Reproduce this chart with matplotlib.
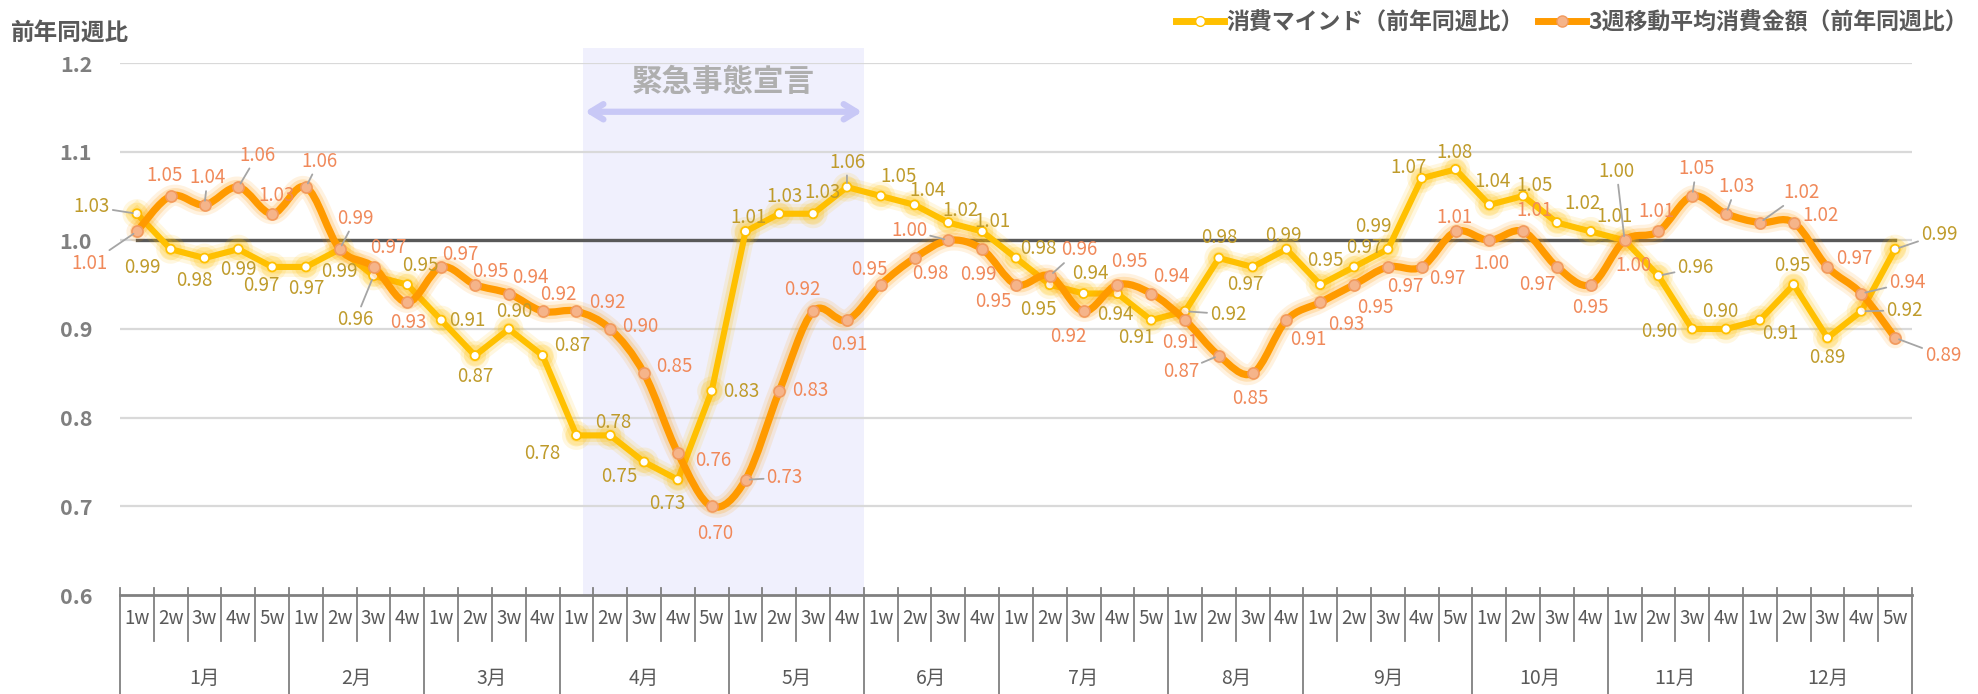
import numpy as np
import matplotlib.pyplot as plt
import matplotlib.patheffects as pe
import matplotlib.transforms as mtransforms
from matplotlib.path import Path
from matplotlib.patches import PathPatch, Rectangle
from matplotlib.lines import Line2D

plt.rcParams['font.family'] = ['Noto Sans CJK JP', 'DejaVu Sans']

# %% Data
months = ['1月', '2月', '3月', '4月', '5月', '6月',
          '7月', '8月', '9月', '10月', '11月', '12月']
weeks_per_month = [5, 4, 4, 5, 4, 4, 5, 4, 5, 4, 4, 5]

# 消費マインド（前年同週比）
mind = [1.03, 0.99, 0.98, 0.99, 0.97,
        0.97, 0.99, 0.96, 0.95,
        0.91, 0.87, 0.90, 0.87,
        0.78, 0.78, 0.75, 0.73, 0.83,
        1.01, 1.03, 1.03, 1.06,
        1.05, 1.04, 1.02, 1.01,
        0.98, 0.95, 0.94, 0.94, 0.91,
        0.92, 0.98, 0.97, 0.99,
        0.95, 0.97, 0.99, 1.07, 1.08,
        1.04, 1.05, 1.02, 1.01,
        1.00, 0.96, 0.90, 0.90,
        0.91, 0.95, 0.89, 0.92, 0.99]

# 3週移動平均消費金額（前年同週比）
spend = [1.01, 1.05, 1.04, 1.06, 1.03,
         1.06, 0.99, 0.97, 0.93,
         0.97, 0.95, 0.94, 0.92,
         0.92, 0.90, 0.85, 0.76, 0.70,
         0.73, 0.83, 0.92, 0.91,
         0.95, 0.98, 1.00, 0.99,
         0.95, 0.96, 0.92, 0.95, 0.94,
         0.91, 0.87, 0.85, 0.91,
         0.93, 0.95, 0.97, 0.97, 1.01,
         1.00, 1.01, 0.97, 0.95,
         1.00, 1.01, 1.05, 1.03,
         1.02, 1.02, 0.97, 0.94, 0.89]

yticks = [0.6, 0.7, 0.8, 0.9, 1.0, 1.1, 1.2]
baseline = 1.0
# emergency declaration period, in week units from the start of January
emergency_span = (13.7, 22.0)

# %% Label placement (pixel offsets from each point, x right / y down)
mind_offsets = [(-45, -7), (-28, 18), (-10, 22), (0, 20), (-11, 19),
                (0, 22), (0, 22), (-18, 44), (13, -19),
                (26, 0), (0, 21), (5, -17), (30, -10),
                (-34, 18), (3, -13), (-25, 14), (-11, 24), (30, 0),
                (3, -14), (5, -17), (9, -21), (0, -25),
                (18, -19), (13, -14), (12, -12), (10, -10),
                (22, -10), (-11, 25), (7, -20), (-2, 21), (-15, 17),
                (43, 3), (0, -21), (-7, 18), (-3, -14),
                (5, -24), (10, -19), (-15, -23), (-13, -11), (-1, -17),
                (3, -23), (11, -10), (26, -19), (24, -15),
                (-8, -69), (37, -8), (-33, 3), (-6, -17),
                (20, 13), (-1, -19), (0, 20), (43, -1), (44, -15)]
spend_offsets = [(-47, 32), (-6, -20), (3, -27), (19, -32), (4, -18),
                 (13, -26), (16, -31), (15, -19), (1, 20),
                 (19, -12), (15, -13), (22, -16), (16, -17),
                 (31, -9), (30, -2), (30, -7), (35, 7), (3, 27),
                 (39, -2), (31, -1), (-11, -22), (2, 24),
                 (-11, -15), (16, 15), (-39, -10), (-4, 25),
                 (-23, 17), (29, -26), (-15, 25), (12, -23), (20, -17),
                 (-5, 22), (-38, 16), (-2, 25), (22, 19),
                 (26, 22), (21, 23), (17, 20), (26, 12), (-1, -14),
                 (2, 23), (11, -21), (-20, 18), (0, 23),
                 (9, 25), (-2, -20), (4, -27), (10, -27),
                 (42, -30), (27, -7), (27, -8), (46, -11), (48, 18)]
mind_leaders = {0, 7, 21, 31, 44, 45, 51, 52}
spend_leaders = {0, 2, 3, 5, 6, 18, 24, 27, 32, 46, 47, 48, 51, 52}

# %% Colours
c_mind = '#FFC000'
c_spend = '#FF9A00'
c_mind_txt = '#BF9B2B'
c_spend_txt = '#F0895A'
c_grid = '#D9D9D9'
c_axis = '#808080'
c_text = '#595959'


def smooth_path(xs, ys):
    # Catmull-Rom style cubic Bezier through every point
    pts = np.column_stack([xs, ys])
    verts = [pts[0]]
    codes = [Path.MOVETO]
    n = len(pts)
    for i in range(n - 1):
        p0 = pts[max(i - 1, 0)]
        p1, p2 = pts[i], pts[i + 1]
        p3 = pts[min(i + 2, n - 1)]
        verts += [p1 + (p2 - p0) / 6, p2 - (p3 - p1) / 6, p2]
        codes += [Path.CURVE4] * 3
    return Path(verts, codes)


def glow(color, lw):
    return [pe.Stroke(linewidth=lw + 10, foreground=color, alpha=0.12),
            pe.Stroke(linewidth=lw + 5, foreground=color, alpha=0.2),
            pe.Normal()]


# %% Figure
fig = plt.figure(figsize=(19.78, 6.94), dpi=100)
ax = fig.add_axes([120 / 1978, 1 - 595 / 694, 1792 / 1978, 532 / 694])

n_weeks = sum(weeks_per_month)
x = np.arange(n_weeks) + 0.5

ax.set_xlim(0, n_weeks)
ax.set_ylim(yticks[0], yticks[-1])
for s in ax.spines.values():
    s.set_visible(False)
ax.set_xticks([])
ax.set_yticks(yticks)
ax.set_yticklabels([f'{t:.1f}' for t in yticks], fontsize=15.5,
                   fontweight='bold', color='#7F7F7F')
ax.tick_params(axis='y', length=0, pad=20)

# emergency declaration band, running a little above the top gridline
band_top = 1.217
ax.add_patch(Rectangle((emergency_span[0], yticks[0]),
                       emergency_span[1] - emergency_span[0],
                       band_top - yticks[0],
                       facecolor='#F0F0FD', edgecolor='none', zorder=0,
                       clip_on=False))
ax.annotate('', xy=(emergency_span[0] + 0.05, 1.145),
            xytext=(emergency_span[1] - 0.05, 1.145),
            arrowprops=dict(arrowstyle='<->,head_length=0.9,head_width=0.55',
                            color='#C8C8F6', lw=4.5, shrinkA=0, shrinkB=0),
            zorder=1)
ax.text(sum(emergency_span) / 2, 1.179, '緊急事態宣言', ha='center',
        va='center', fontsize=22, fontweight='bold', color='#AFAFAF', zorder=1)

# gridlines
for t in yticks[1:]:
    ax.axhline(t, color=c_grid, lw=1.6, zorder=1)
ax.plot([x[0], x[-1]], [baseline, baseline], color=c_text, lw=2.4, zorder=2)

# category axis with two-row labels
ax.plot([0, n_weeks], [yticks[0], yticks[0]], color=c_axis, lw=2,
        clip_on=False, zorder=3)
trans = mtransforms.blended_transform_factory(ax.transData, ax.transAxes)
bounds = np.cumsum([0] + weeks_per_month)
for b in range(n_weeks + 1):
    bottom = -0.186 if b in bounds else -0.0865
    ax.plot([b, b], [0.013, bottom], transform=trans, color=c_axis, lw=1.3,
            clip_on=False, zorder=3)
for m, (start, nw) in enumerate(zip(bounds[:-1], weeks_per_month)):
    for k in range(nw):
        ax.text(start + k + 0.5, -0.045, f'{k + 1}w', transform=trans,
                ha='center', va='center', fontsize=13.5, color=c_text)
    ax.text(start + nw / 2, -0.156, months[m], transform=trans,
            ha='center', va='center', fontsize=14, color=c_text)

# series
ax.plot(x, mind, color=c_mind, lw=4.4, solid_joinstyle='round', zorder=4,
        marker='o', ms=6.5, mfc='white', mec=c_mind, mew=1.3,
        path_effects=glow(c_mind, 4.4))
ax.add_patch(PathPatch(smooth_path(x, spend), fill=False, edgecolor=c_spend,
                       lw=5.2, capstyle='round', joinstyle='round', zorder=5,
                       path_effects=glow(c_spend, 5.2)))
ax.plot(x, spend, ls='none', marker='o', ms=8, mfc='#F5B48A', mec='#F29A5E',
        mew=1.2, zorder=6)


def add_labels(values, offsets, leaders, color):
    for i, (xi, v) in enumerate(zip(x, values)):
        dx, dy = offsets[i]
        props = None
        if i in leaders:
            props = dict(arrowstyle='-', color='#A5A5A5', lw=1.3,
                         shrinkA=0, shrinkB=3)
        ax.annotate(f'{v:.2f}', xy=(xi, v), xytext=(dx, -dy),
                    textcoords='offset pixels', ha='center', va='center',
                    fontsize=13.5, color=color, arrowprops=props, zorder=7,
                    annotation_clip=False)


add_labels(mind, mind_offsets, mind_leaders, c_mind_txt)
add_labels(spend, spend_offsets, spend_leaders, c_spend_txt)

# axis caption and legend
fig.text(11 / 1978, 1 - 33 / 694, '前年同週比', ha='left', va='center',
         fontsize=17, fontweight='bold', color=c_text)
handles = [Line2D([], [], color=c_mind, lw=5, marker='o', ms=7,
                  mfc='white', mec=c_mind),
           Line2D([], [], color=c_spend, lw=5, marker='o', ms=8,
                  mfc='#F5B48A', mec='#F29A5E')]
fig.legend(handles, ['消費マインド（前年同週比）', '3週移動平均消費金額（前年同週比）'],
           loc='center left', bbox_to_anchor=(1176 / 1978, 1 - 23 / 694),
           ncol=2, frameon=False, handlelength=2.1, handletextpad=0.1,
           columnspacing=0.6, borderpad=0, borderaxespad=0,
           prop={'size': 16.5, 'weight': 'bold'}, labelcolor=c_text)

fig.savefig('out.png', dpi=100)
